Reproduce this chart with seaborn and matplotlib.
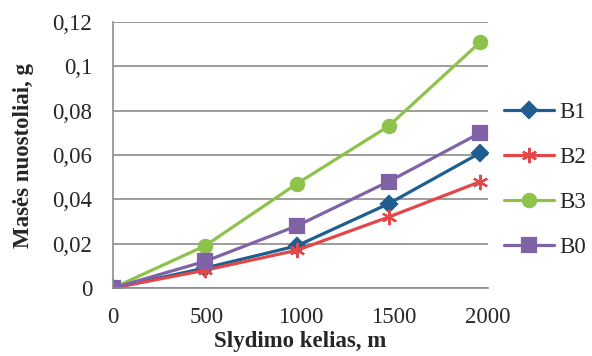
import pandas as pd
import matplotlib

matplotlib.use("Agg")
import matplotlib.pyplot as plt
import seaborn as sns

# Data
distance = [0, 490, 980, 1470, 1960]
series_names = ["B1", "B2", "B3", "B0"]
b1 = [0.0, 0.009, 0.019, 0.038, 0.061]
b2 = [0.0, 0.008, 0.017, 0.032, 0.048]
b3 = [0.0, 0.019, 0.047, 0.073, 0.111]
b0 = [0.0, 0.012, 0.028, 0.048, 0.070]

x_ticks = [0, 500, 1000, 1500, 2000]
y_ticks = [0, 0.02, 0.04, 0.06, 0.08, 0.1, 0.12]
y_tick_labels = ["0", "0,02", "0,04", "0,06", "0,08", "0,1", "0,12"]

colors = {"B1": "#1F5F8F", "B2": "#E2474A", "B3": "#8DC24B", "B0": "#8062A6"}
markers = {"B1": "D", "B2": (6, 2, 0), "B3": "o", "B0": "s"}
marker_sizes = {"B1": 8.5, "B2": 11, "B3": 9.5, "B0": 10}

df = pd.DataFrame(
    {
        "distance": distance * 4,
        "loss": b1 + b2 + b3 + b0,
        "series": [s for s in series_names for _ in distance],
    }
)

sns.set_style("white")
plt.rcParams["font.family"] = ["Liberation Serif", "DejaVu Serif"]

fig = plt.figure(figsize=(5.92, 3.56), dpi=100)
ax = fig.add_axes([0.191, 0.191, 0.633, 0.747])

for name in series_names:
    sub = df[df["series"] == name]
    sns.lineplot(
        data=sub,
        x="distance",
        y="loss",
        color=colors[name],
        marker=markers[name],
        markersize=marker_sizes[name],
        markeredgecolor=colors[name],
        markeredgewidth=1.6,
        linewidth=2.3,
        label=name,
        ax=ax,
    )

ax.set_xlim(0, 2000)
ax.set_ylim(0, 0.12)
ax.set_xticks(x_ticks)
ax.set_xticklabels([str(t) for t in x_ticks])
ax.set_yticks(y_ticks)
ax.set_yticklabels(y_tick_labels)
ax.tick_params(axis="both", labelsize=16.5, length=0)
ax.tick_params(axis="x", pad=14)
ax.tick_params(axis="y", pad=15)

ax.yaxis.grid(True, color="#8c8c8c", linewidth=1.2)
ax.xaxis.grid(False)
for side in ["top", "right"]:
    ax.spines[side].set_visible(False)
for side in ["left", "bottom"]:
    ax.spines[side].set_color("#8c8c8c")
    ax.spines[side].set_linewidth(1.2)

ax.set_xlabel("Slydimo kelias, m", fontsize=16.5, fontweight="bold", labelpad=2)
ax.set_ylabel("Masės nuostoliai, g", fontsize=16.5, fontweight="bold", labelpad=13)

handles, labels = ax.get_legend_handles_labels()
ax.legend(
    handles,
    labels,
    loc="center left",
    bbox_to_anchor=(1.0, 0.405),
    borderaxespad=0.3,
    frameon=False,
    fontsize=16.5,
    handlelength=2.2,
    handletextpad=0.2,
    labelspacing=1.05,
)

fig.savefig("out.png", dpi=100)
